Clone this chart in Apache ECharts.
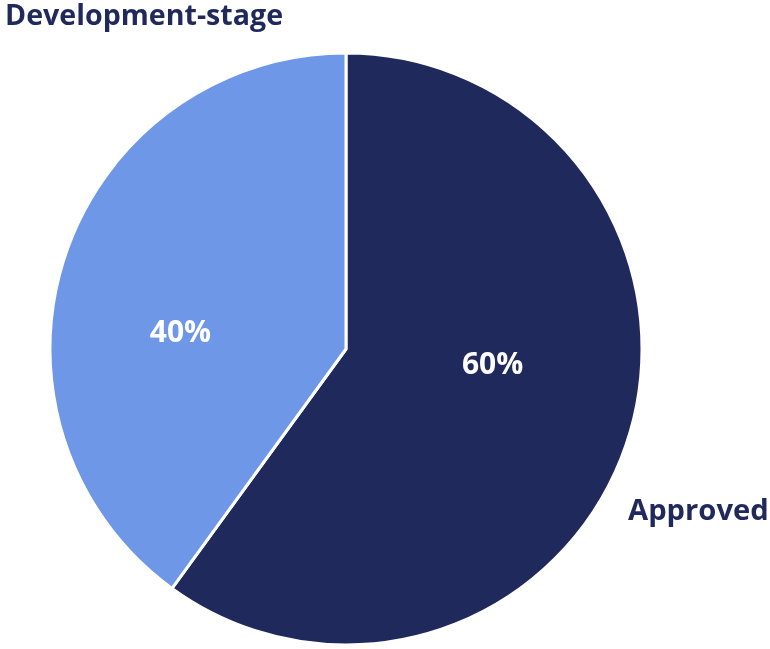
<!DOCTYPE html>
<html>
<head>
<meta charset="utf-8">
<script src="https://cdn.jsdelivr.net/npm/echarts@6/dist/echarts.min.js"></script>
<style>
  html, body { margin: 0; padding: 0; background: #fff; }
  #chart { width: 770px; height: 649px; }
</style>
</head>
<body>
<div id="chart"></div>
<script>
// Share of pipeline by stage
const categories = ['Approved', 'Development-stage'];
const shares = [60, 40];
const sliceColors = ['#1F295C', '#6F97E8'];

const FONT = '"Open Sans"';
const chart = echarts.init(document.getElementById('chart'));

chart.setOption({
  animation: false,
  graphic: [
    {
      type: 'text', left: 5, top: 2,
      style: { text: categories[1], fill: '#1F295C', font: 'bold 28.6px ' + FONT }
    },
    {
      type: 'text', left: 628, top: 497,
      style: { text: categories[0], fill: '#1F295C', font: 'bold 29.2px ' + FONT }
    }
  ],
  series: [{
    type: 'pie',
    center: [346, 349],
    radius: [0, 296],
    startAngle: 90,
    clockwise: true,
    itemStyle: { borderColor: '#fff', borderWidth: 3 },
    label: {
      show: true,
      position: 'inside',
      formatter: '{d}%',
      color: '#fff',
      fontFamily: FONT,
      fontWeight: 'bold',
      fontSize: 30
    },
    labelLine: { show: false },
    emphasis: { disabled: true },
    data: categories.map((name, i) => ({
      name,
      value: shares[i],
      itemStyle: { color: sliceColors[i] },
      label: { offset: i === 0 ? [3, -30] : [-22, 31] }
    }))
  }]
});
</script>
</body>
</html>
